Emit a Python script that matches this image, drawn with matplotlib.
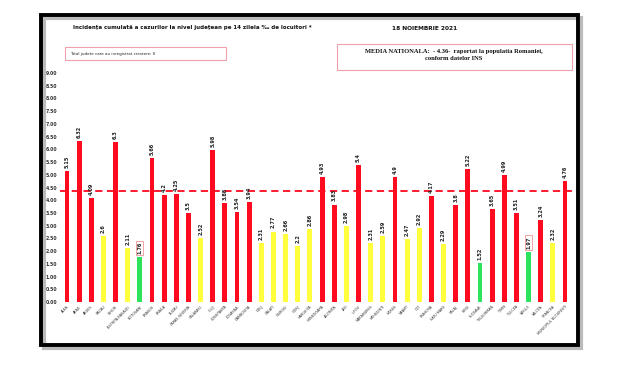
import matplotlib
matplotlib.use("Agg")
import matplotlib.pyplot as plt
from matplotlib.patches import Rectangle

counties = ["ALBA", "ARAD", "ARGES", "BACAU", "BIHOR", "BISTRITA-NASAUD", "BOTOSANI",
            "BRASOV", "BRAILA", "BUZAU", "CARAS-SEVERIN", "CALARASI", "CLUJ", "CONSTANTA",
            "COVASNA", "DAMBOVITA", "DOLJ", "GALATI", "GIURGIU", "GORJ", "HARGHITA",
            "HUNEDOARA", "IALOMITA", "IASI", "ILFOV", "MARAMURES", "MEHEDINTI", "MURES",
            "NEAMT", "OLT", "PRAHOVA", "SATU MARE", "SALAJ", "SIBIU", "SUCEAVA",
            "TELEORMAN", "TIMIS", "TULCEA", "VASLUI", "VALCEA", "VRANCEA",
            "MUNICIPIUL BUCURESTI"]
values = [5.15, 6.32, 4.09, 2.6, 6.3, 2.11, 1.76, 5.66, 4.2, 4.25, 3.5, 2.52, 5.98, 3.88,
          3.54, 3.94, 2.31, 2.77, 2.66, 2.2, 2.86, 4.93, 3.83, 2.98, 5.4, 2.31, 2.59, 4.9,
          2.47, 2.92, 4.17, 2.29, 3.8, 5.22, 1.52, 3.65, 4.99, 3.51, 1.97, 3.24, 2.32, 4.76]
value_labels = ["5.15", "6.32", "4.09", "2.6", "6.3", "2.11", "1.76", "5.66", "4.2", "4.25",
                "3.5", "2.52", "5.98", "3.88", "3.54", "3.94", "2.31", "2.77", "2.66", "2.2",
                "2.86", "4.93", "3.83", "2.98", "5.4", "2.31", "2.59", "4.9", "2.47", "2.92",
                "4.17", "2.29", "3.8", "5.22", "1.52", "3.65", "4.99", "3.51", "1.97", "3.24",
                "2.32", "4.76"]
boxed_labels = ["BOTOSANI", "VASLUI"]
national_avg = 4.36
yticks = [i * 0.5 for i in range(19)]

RED = "#ff0a1e"
YELLOW = "#ffff3c"
GREEN = "#2ee35c"

def color_for(v):
    if v < 2.0:
        return GREEN
    if v <= 3.0:
        return YELLOW
    return RED

W, H = 620, 367
fig = plt.figure(figsize=(W / 100, H / 100), dpi=100)
fig.patch.set_facecolor("white")

def fx(px):
    return px / W

def fy(py):
    return 1 - py / H

# frame with shadow
fig.patches.append(Rectangle((fx(44), fy(348)), fx(581) - fx(44), fy(18) - fy(348),
                             transform=fig.transFigure, fill=False, edgecolor="#bbbbbb",
                             linewidth=3, zorder=0))
fig.patches.append(Rectangle((fx(41), fy(345)), fx(578) - fx(41), fy(15) - fy(345),
                             transform=fig.transFigure, fill=False, edgecolor="black",
                             linewidth=2.8, zorder=1))

ax_left, ax_right = 60, 572
ax_top, ax_bottom = 73, 302
ax = fig.add_axes([fx(ax_left), fy(ax_bottom), fx(ax_right) - fx(ax_left), fy(ax_top) - fy(ax_bottom)])
x = list(range(len(values)))
colors = [color_for(v) for v in values]
ax.bar(x, values, width=0.4, color=colors, zorder=2)
ax.axhline(national_avg, color=RED, linestyle=(0, (4, 2.5)), linewidth=1.3, zorder=3)
ax.set_xlim(-0.58, len(values) - 1 + 0.58)
ax.set_ylim(0, 9.0)
ax.set_yticks(yticks)
ax.set_yticklabels([f"{t:.2f}" for t in yticks], fontsize=3.3, fontweight="bold", color="#333333")
ax.set_xticks(x)
ax.set_xticklabels(counties, rotation=45, ha="right", rotation_mode="anchor", fontsize=2.4,
                   color="#333333")
ax.tick_params(axis="both", length=0, pad=2)
for s in ax.spines.values():
    s.set_visible(False)
ax.patch.set_alpha(0)

for xi, v, lab, name in zip(x, values, value_labels, counties):
    kw = {}
    if name in boxed_labels:
        kw["bbox"] = dict(boxstyle="square,pad=0.2", fc="white", ec="#f08080", lw=0.5)
    ax.text(xi, v + 0.12, lab, rotation=90, ha="center", va="bottom", fontsize=3.6,
            fontweight="bold", color="#222222", **kw)

# titles
fig.text(fx(192), fy(27), "Incidența cumulată a cazurilor la nivel județean pe 14 zilela ‰ de locuitori *",
         ha="center", va="center", fontsize=4.0, fontweight="bold", color="#111111")
fig.text(fx(425), fy(28), "18 NOIEMBRIE 2021", ha="center", va="center", fontsize=4.2,
         fontweight="bold", color="#111111")

# left info box
fig.patches.append(Rectangle((fx(65), fy(60)), fx(226) - fx(65), fy(47) - fy(60),
                             transform=fig.transFigure, fill=False, edgecolor="#f0a0a8",
                             linewidth=0.8))
fig.text(fx(70), fy(53.5), "Total judete care au inregistrat crestere: 0", ha="left",
         va="center", fontsize=2.9, color="#222222")

# right info box
fig.patches.append(Rectangle((fx(337), fy(70)), fx(572) - fx(337), fy(44) - fy(70),
                             transform=fig.transFigure, fill=False, edgecolor="#f0a0a8",
                             linewidth=0.8))
fig.text(fx(454), fy(51), "MEDIA NATIONALA:  - 4.36-  raportat la populatia Romaniei,",
         ha="center", va="center", fontsize=4.7, fontweight="bold", family="Liberation Serif",
         color="#111111")
fig.text(fx(454), fy(59), "conform datelor INS", ha="center", va="center", fontsize=4.7,
         fontweight="bold", family="Liberation Serif", color="#111111")

fig.savefig("out.png", dpi=100, facecolor="white")
